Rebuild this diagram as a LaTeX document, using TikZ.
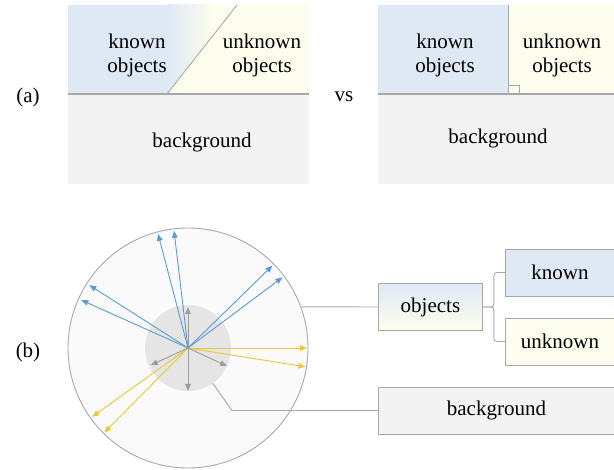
\documentclass[tikz,border=0pt]{standalone}
\usepackage{fontspec}
\setmainfont{Liberation Serif}
\newfontfamily\timesfont{Liberation Serif}
\usetikzlibrary{arrows.meta, positioning}

\definecolor{knownfill}{HTML}{DFE9F5}
\definecolor{unknownfill}{HTML}{FEFEEE}
\definecolor{bgfill}{HTML}{F3F3F3}
\definecolor{edgegray}{HTML}{A8A8A8}
\definecolor{bluearrow}{HTML}{5B9BD5}
\definecolor{yellowarrow}{HTML}{E8C83A}
\definecolor{grayarrow}{HTML}{9C9C9C}

\tikzset{
  label text/.style={font=\timesfont\fontsize{21}{24}\selectfont, align=center, inner sep=0pt},
  part box/.style={draw=edgegray, line width=0.9pt, minimum height=47pt, label text},
  ray/.style={line width=0.9pt, -{Triangle[length=7pt,width=5.5pt]}},
  link/.style={draw=edgegray, line width=0.9pt}
}

\begin{document}
\begin{tikzpicture}[x=1pt, y=-1pt]
\useasboundingbox (0,0) rectangle (614,470);

% (a) left panel
\fill[knownfill] (68,5) rectangle (167,94);
\fill[unknownfill] (167,5) rectangle (309,94);
\shade[left color=knownfill, right color=unknownfill] (167,5) rectangle (215,94);
\fill[unknownfill] (167,94) -- (237,5) -- (309,5) -- (309,94) -- cycle;
\fill[bgfill] (68,94) rectangle (309,184);
\draw[edgegray, line width=0.9pt] (167,94) -- (237,5);
\draw[edgegray, line width=1.2pt] (68,94) -- (309,94);
\node[label text] (knownL) at (137,55) {known\\objects};
\node[label text] (unknownL) at (262,55) {unknown\\objects};
\node[label text] (bgL) at (202,142) {background};

% (a) right panel
\fill[knownfill] (378,5) rectangle (508,94);
\fill[unknownfill] (508,5) rectangle (614,94);
\fill[bgfill] (378,94) rectangle (614,184);
\draw[edgegray, line width=0.9pt] (508,5) -- (508,94);
\draw[edgegray, line width=0.8pt] (508,85) -| (519,94);
\draw[edgegray, line width=1.2pt] (378,94) -- (614,94);
\node[label text] (knownR) at (445,55) {known\\objects};
\node[label text] (unknownR) at (562,55) {unknown\\objects};
\node[label text] (bgR) at (498,138) {background};

\node[label text] (tagA) at (28,97) {(a)};
\node[label text] (vs) at (344,97) {vs};
\node[label text] (tagB) at (28,352) {(b)};

% (b) feature space
\node[circle, draw=edgegray, line width=0.9pt, fill=black!2, minimum size=240pt, inner sep=0pt] (scene) at (188,348) {};
\node[circle, fill=black!10, minimum size=86pt, inner sep=0pt] (core) at (188,348) {};
\coordinate (o) at (188,348);

\foreach \a/\r in {104.7/118, 96.8/118, 147.5/117, 155.8/117, 44.3/118, 36.8/118}
  \draw[ray, bluearrow, y=1pt] (o) -- ++(\a:\r);
\foreach \a/\r in {0/119, -9.1/119, -144.3/118, -134.7/119}
  \draw[ray, yellowarrow, y=1pt] (o) -- ++(\a:\r);
\foreach \a/\r in {90/41, 270/43, 204.7/41, -24.8/43}
  \draw[ray, grayarrow, y=1pt] (o) -- ++(\a:\r);

% boxes
\node[part box, top color=knownfill, bottom color=unknownfill, minimum width=104pt, anchor=west] (objects) at (378,307) {objects};
\node[part box, fill=knownfill, minimum width=115pt, anchor=west] (known) at (505,272.5) {\hspace*{-6pt}known};
\node[part box, fill=unknownfill, minimum width=115pt, anchor=west] (unknown) at (505,341.5) {\hspace*{-6pt}unknown};
\node[part box, fill=bgfill, minimum width=242pt, anchor=west] (background) at (378,410.5) {\hspace*{-6pt}background};

% connectors
\draw[link] (scene.20) -- (objects.west);
\coordinate (bend) at (232,410.5);
\draw[link] (core.-55) -- (bend) -- (background.west);
\draw[link, rounded corners=3pt] (objects.east) -- ++(11,0) |- (known.west);
\draw[link, rounded corners=3pt] (objects.east) -- ++(11,0) |- (unknown.west);
\end{tikzpicture}
\end{document}
